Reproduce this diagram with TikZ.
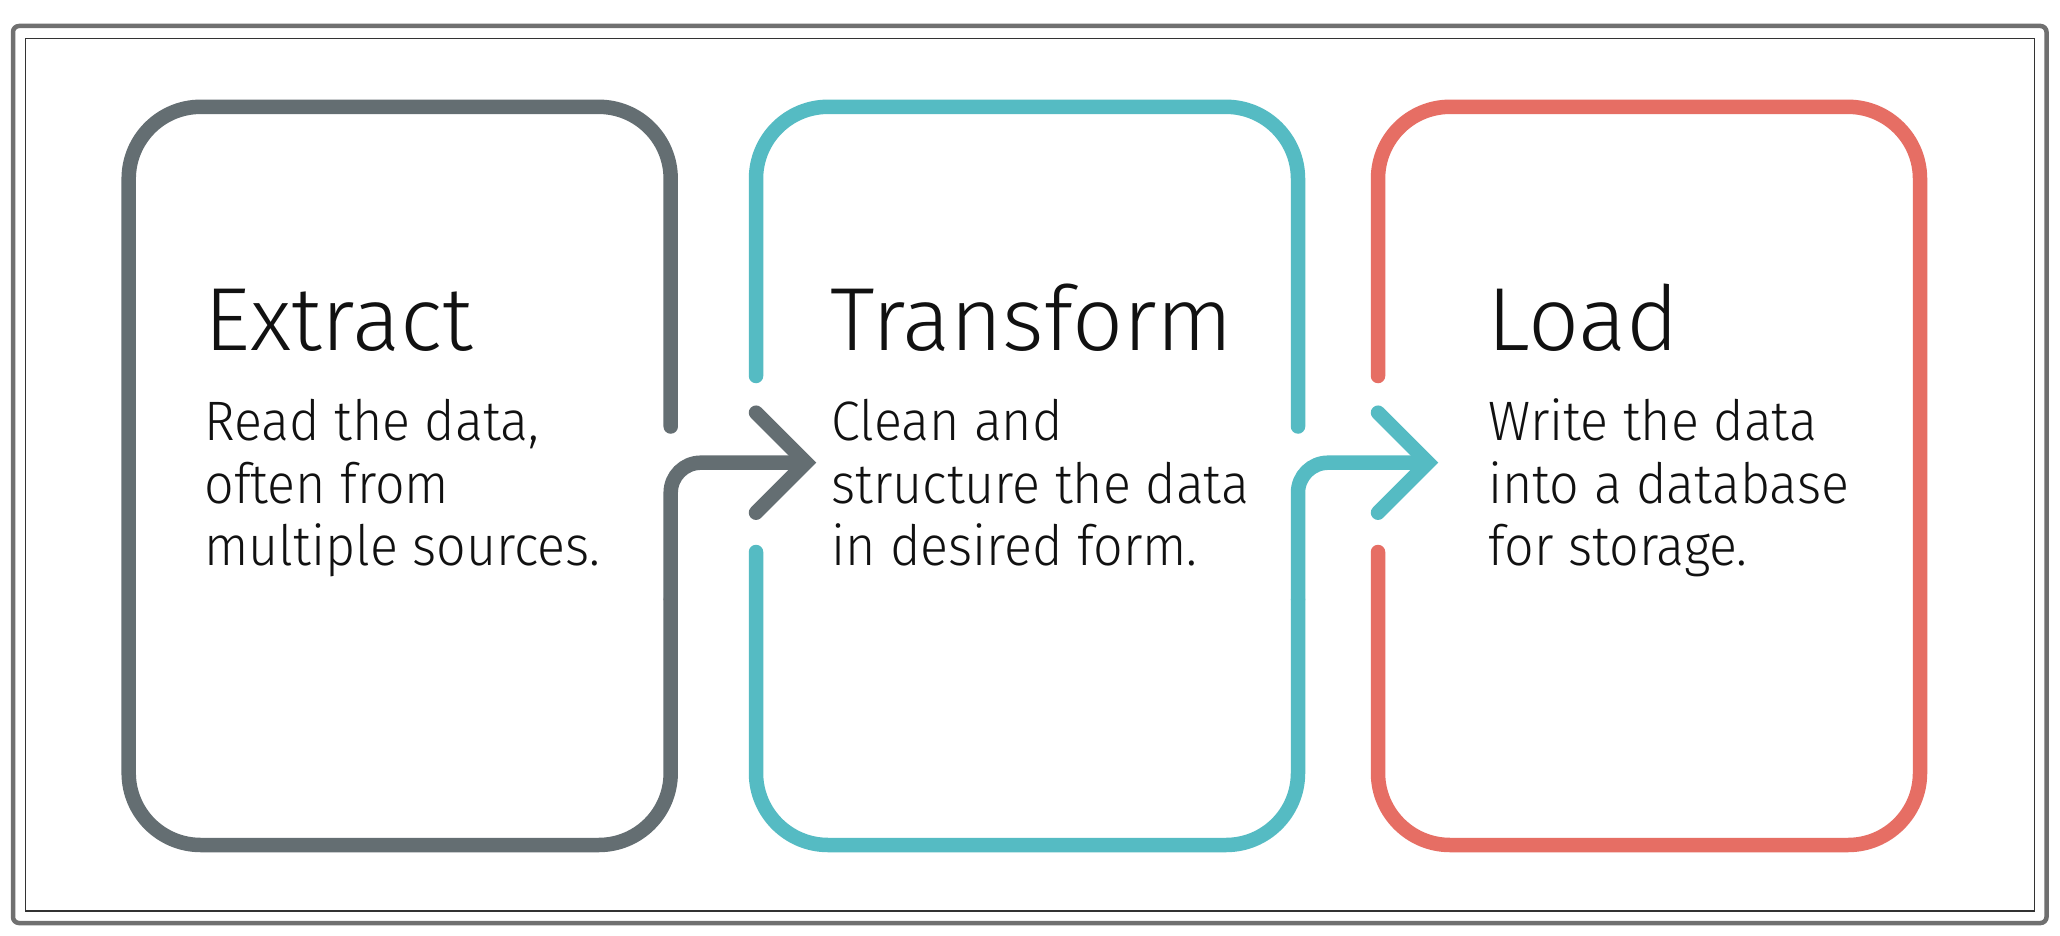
\documentclass[tikz,border=0pt]{standalone}
\usepackage{fontspec}
\setmainfont{Fira Sans}[UprightFont=* Light]
\newfontfamily\bodyfont{Fira Sans}[UprightFont=* Light, FakeStretch=0.935]
\definecolor{cgray}{HTML}{646E72}
\definecolor{cteal}{HTML}{55BBC3}
\definecolor{cred}{HTML}{E66E64}
\definecolor{frame}{HTML}{707070}
\definecolor{inner}{HTML}{333333}
\definecolor{txt}{HTML}{111111}
\begin{document}
\begin{tikzpicture}[x=0.5pt,y=-0.5pt,
  boxline/.style={line width=7.25pt, line cap=round, rounded corners=36pt},
  link/.style={line width=7.25pt, rounded corners=15pt},
  chev/.style={line width=7.25pt, line cap=round, line join=miter},
  head/.style={anchor=base west, inner sep=0pt, font=\fontsize{44.8pt}{50pt}\selectfont, text=txt},
  body/.style={anchor=base west, inner sep=0pt, font=\bodyfont\fontsize{27.8pt}{31pt}\selectfont, text=txt}]
\useasboundingbox (0,0) rectangle (2060,936);
\fill[white] (0,0) rectangle (2060,936);
% frames
\draw[frame, line width=2.25pt, rounded corners=3pt] (13,26) rectangle (2046.5,923);
\draw[inner, line width=0.65pt] (25.8,38.8) rectangle (2034.3,911);
% coordinates
\coordinate (tipET) at (806,462.7);
\coordinate (tipTL) at (1428,462.7);
% Extract box
\draw[cgray, boxline] (670.7,426.5) -- (670.7,106.8) -- (128.7,106.8) -- (128.7,845) -- (670.7,845) -- (670.7,600);
\draw[cgray, link] (670.7,600) -- (670.7,462.7) -- (tipET);
\draw[cgray, chev] (756,412.7) -- (tipET) -- (756,512.7);
% Transform box
\draw[cteal, boxline] (756,376) -- (756,106.8) -- (1298,106.8) -- (1298,426.5);
\draw[cteal, boxline] (756,552) -- (756,845) -- (1298,845) -- (1298,600);
\draw[cteal, link] (1298,600) -- (1298,462.7) -- (tipTL);
\draw[cteal, chev] (1378,412.7) -- (tipTL) -- (1378,512.7);
% Load box
\draw[cred, boxline] (1378,376) -- (1378,106.8) -- (1920,106.8) -- (1920,845) -- (1378,845) -- (1378,552);
% texts
\node[head] (eh) at (204,350) {Extract};
\node[body] (e1) at (204,440) {Read the data,};
\node[body] (e2) at (204,503) {often from};
\node[body] (e3) at (204,565) {multiple sources.};
\node[head] (th) at (830,350) {Transform};
\node[body] (t1) at (831,440) {Clean and};
\node[body] (t2) at (831,503) {structure the data};
\node[body] (t3) at (831,565) {in desired form.};
\node[head] (lh) at (1487,350) {Load};
\node[body] (l1) at (1488,440) {Write the data};
\node[body] (l2) at (1488,503) {into a database};
\node[body] (l3) at (1488,565) {for storage.};
\end{tikzpicture}
\end{document}
